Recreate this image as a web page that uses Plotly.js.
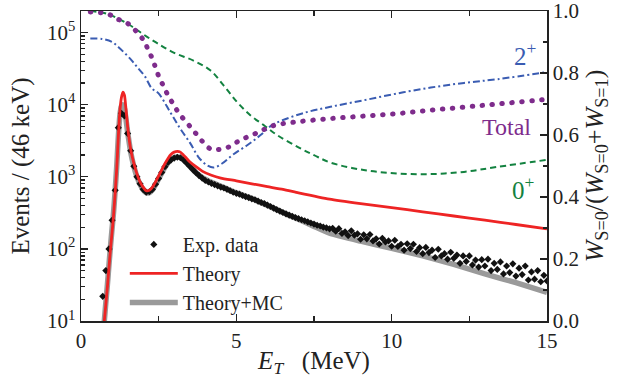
<!DOCTYPE html>
<html>
<head>
<meta charset="utf-8">
<script src="https://cdn.plot.ly/plotly-3.0.1.min.js"></script>
<style>html,body{margin:0;padding:0;background:#fff}#chart{width:621px;height:378px}</style>
</head>
<body>
<div id="chart"></div>
<script>
// ---- Experimental data (E_T in MeV, counts per 46 keV) ----
const expE = [
 0.7,0.8,0.9,1.0,1.1,1.2,1.3,1.4,1.5,1.6,
 1.7,1.8,1.9,2.0,2.1,2.2,2.3,2.4,2.5,2.6,
 2.7,2.8,2.9,3.0,3.1,3.2,3.3,3.4,3.5,3.6,
 3.7,3.8,3.9,4.0,4.1,4.2,4.3,4.4,4.5,4.6,
 4.7,4.8,4.9,5.0,5.1,5.2,5.3,5.4,5.5,5.6,
 5.7,5.8,5.9,6.0,6.1,6.2,6.3,6.4,6.5,6.6,
 6.7,6.8,6.9,7.0,7.1,7.2,7.3,7.4,7.5,7.6,
 7.7,7.8,7.9,8.0,8.1,8.2,8.3,8.4,8.5,8.6,
 8.7,8.8,8.9,9.0,9.1,9.2,9.3,9.4,9.5,9.6,
 9.7,9.8,9.9,10.0,10.1,10.2,10.3,10.4,10.5,10.6,
 10.7,10.8,10.9,11.0,11.1,11.2,11.3,11.4,11.5,11.6,
 11.7,11.8,11.9,12.0,12.1,12.2,12.3,12.4,12.5,12.6,
 12.7,12.8,12.9,13.0,13.1,13.2,13.3,13.4,13.5,13.6,
 13.7,13.8,13.9,14.0,14.1,14.2,14.3,14.4,14.5,14.6,
 14.7,14.8,14.9,15.0];
const expCounts = [
 22,50,100,250,650,4800,7600,7000,4000,2300,
 1400,1000,800,670,610,620,670,790,950,1150,
 1380,1580,1720,1820,1870,1840,1720,1560,1400,1260,
 1140,1040,960,890,850,810,780,750,720,700,
 670,640,610,590,575,550,530,515,495,480,
 460,440,425,405,388,368,350,335,320,306,
 294,283,272,263,254,246,237,229,221,213,
 208,200,196,190,193,176,191,164,172,153,
 178,155,162,136,157,138,158,129,138,117,
 140,125,129,109,132,108,116,96,118,101,
 116,92,104,86,105,89,96,76,99,80,
 86,72,90,74,82,63,80,67,80,60,
 70,56,71,58,72,50,63,52,66,45,
 58,47,62,42,54,44,58,37,48,38,
 50,35,43,36];

// ---- Theory (red) ----
const thE = [0.70,0.75,0.80,0.85,0.90,0.95,1.00,1.05,1.10,1.15,1.20,1.25,1.30,1.35,1.40,1.45,1.50,1.55,1.60,1.70,1.80,1.90,2.00,2.10,2.20,2.30,2.40,2.50,2.60,2.70,2.80,2.90,3.00,3.10,3.20,3.30,3.40,3.50,3.70,3.90,4.20,4.50,5.00,5.50,6.00,6.50,7.00,8.00,9.00,10.00,11.00,12.00,13.00,14.00,15.00];
const thCounts = [6,10,17,30,55,100,170,300,600,1300,3500,8000,12500,15000,13500,8500,5000,3300,2400,1550,1100,850,720,640,650,720,850,1030,1250,1520,1800,2050,2200,2250,2200,2000,1800,1620,1380,1200,1050,960,880,800,730,670,600,490,425,375,327,286,250,218,190];

// ---- Theory + MC (gray) ----
const mcE = [0.70,0.75,0.80,0.85,0.90,0.95,1.00,1.05,1.10,1.15,1.20,1.25,1.30,1.35,1.40,1.45,1.50,1.55,1.60,1.70,1.80,1.90,2.00,2.10,2.20,2.30,2.40,2.50,2.60,2.70,2.80,2.90,3.00,3.10,3.20,3.30,3.40,3.50,3.70,3.90,4.20,4.50,5.00,5.50,6.00,6.50,7.00,7.50,8.00,9.00,10.00,11.00,12.00,13.00,14.00,15.00];
const mcCounts = [6,10,18,32,60,110,190,330,650,1400,3500,7000,9500,10000,8800,6200,4200,3000,2200,1400,1000,790,660,600,600,660,780,940,1130,1350,1560,1740,1850,1890,1850,1720,1560,1400,1150,980,840,740,600,500,400,320,258,205,165,128,102,80,61,45,34,25];

// ---- Ratio W_{S=0}/(W_{S=0}+W_{S=1}) (right axis) ----
const totE = [0.3,0.67,1.0,1.2,1.5,1.8,2.03,2.17,2.31,2.41,2.52,2.66,2.8,2.98,3.16,3.43,3.68,3.92,4.19,4.48,4.77,5.07,5.36,5.67,5.96,6.26,7.0,8.03,9.1,10.18,11.26,12.33,13.4,15.0];
const totRatio = [0.997,0.994,0.985,0.973,0.96,0.932,0.903,0.873,0.843,0.814,0.785,0.757,0.728,0.698,0.669,0.637,0.607,0.578,0.554,0.554,0.562,0.58,0.594,0.607,0.621,0.632,0.643,0.653,0.661,0.669,0.68,0.69,0.70,0.715];

const twoE = [0.3,0.67,1.0,1.2,1.42,1.63,1.8,2.05,2.28,2.49,2.87,3.19,3.52,3.78,4.05,4.27,4.54,4.91,5.35,5.77,6.15,6.42,7.2,8.03,9.1,10.18,11.26,12.33,13.4,15.0];
const twoRatio = [0.911,0.91,0.9,0.884,0.863,0.841,0.82,0.79,0.75,0.735,0.674,0.621,0.573,0.529,0.503,0.495,0.508,0.538,0.567,0.599,0.632,0.645,0.672,0.691,0.712,0.734,0.753,0.768,0.78,0.803];

const zeroE = [0.3,0.67,1.0,1.58,2.0,2.44,3.0,3.62,4.16,4.59,5.02,5.45,5.88,6.31,7.0,7.5,8.03,9.1,10.18,11.26,12.33,13.4,15.0];
const zeroRatio = [1.0,0.995,0.985,0.954,0.925,0.897,0.865,0.84,0.809,0.76,0.707,0.664,0.632,0.6,0.56,0.535,0.511,0.487,0.476,0.474,0.481,0.497,0.52];

const xTicks = [0,5,10,15];
const yTickVals = [10,100,1000,10000,100000];
const yTickText = ['10<sup>1</sup>','10<sup>2</sup>','10<sup>3</sup>','10<sup>4</sup>','10<sup>5</sup>'];
const y2TickVals = [0,0.2,0.4,0.6,0.8,1.0];
const y2TickText = ['0.0','0.2','0.4','0.6','0.8','1.0'];

const FONT = '"Liberation Serif"';
const BLUE = '#3a5cb2', PURPLE = '#7e2c8c', GREEN = '#138240';
const INK = '#222';

const traces = [
  {x: mcE, y: mcCounts, type:'scatter', mode:'lines', name:'Theory+MC',
   line:{color:'#9a9a9a', width:5.5, shape:'spline', smoothing:0.5}, legendrank:3},
  {x: expE, y: expCounts, type:'scatter', mode:'markers', name:'Exp. data',
   marker:{symbol:'diamond', size:5.5, color:'#111111'}, legendrank:1},
  {x: thE, y: thCounts, type:'scatter', mode:'lines', name:'Theory',
   line:{color:'#ee2424', width:2.8, shape:'spline', smoothing:0.5}, legendrank:2},
  {x: zeroE, y: zeroRatio, yaxis:'y2', type:'scatter', mode:'lines', showlegend:false,
   line:{color:GREEN, width:2, dash:'6px,4px', shape:'spline'}},
  {x: twoE, y: twoRatio, yaxis:'y2', type:'scatter', mode:'lines', showlegend:false,
   line:{color:BLUE, width:2, dash:'7px,3px,2px,3px', shape:'spline'}},
  {x: totE, y: totRatio, yaxis:'y2', type:'scatter', mode:'lines', showlegend:false,
   line:{color:PURPLE, width:5, dash:'0.5px,9.5px', shape:'spline'}}
];

const layout = {
  width:621, height:378,
  margin:{l:81, r:74, t:11, b:57},
  paper_bgcolor:'#fff', plot_bgcolor:'#fff',
  font:{family:FONT, size:20, color:INK},
  showlegend:true,
  legend:{x:0.094, y:0.31, xanchor:'left', yanchor:'top', bgcolor:'rgba(0,0,0,0)',
          font:{family:FONT, size:20, color:INK}, itemwidth:48, tracegroupgap:0},
  xaxis:{range:[0,15], tickvals:xTicks, ticks:'inside', ticklen:7, tickwidth:1.3,
         tickcolor:INK, showline:true, linecolor:INK, linewidth:1.5, mirror:'ticks',
         showgrid:false, zeroline:false,
         minor:{dtick:2.5, tick0:0, ticks:'inside', ticklen:5, tickcolor:INK, showgrid:false},
         tickfont:{family:FONT, size:21, color:INK},
         title:{text:'<i>E<sub>T</sub></i>&nbsp;&nbsp;&nbsp;(MeV)', font:{family:FONT, size:25, color:INK}, standoff:2}},
  yaxis:{type:'log', range:[1,5.3], tickvals:yTickVals, ticktext:yTickText, ticks:'inside', ticklen:7,
         tickwidth:1.3, tickcolor:INK, showline:true, linecolor:INK, linewidth:1.5,
         showgrid:false, zeroline:false,
         minor:{dtick:'D1', ticks:'inside', ticklen:4, tickcolor:INK, showgrid:false},
         tickfont:{family:FONT, size:21, color:INK},
         title:{text:'Events / (46 keV)', font:{family:FONT, size:25, color:INK}, standoff:10}},
  yaxis2:{overlaying:'y', side:'right', range:[0,1], tickvals:y2TickVals, ticktext:y2TickText,
          ticklabeloverflow:'allow',
          ticks:'inside', ticklen:7, tickwidth:1.3, tickcolor:INK, showline:true,
          linecolor:INK, linewidth:1.5, showgrid:false, zeroline:false,
          minor:{dtick:0.1, tick0:0, ticks:'inside', ticklen:4, tickcolor:INK, showgrid:false},
          tickfont:{family:FONT, size:21, color:INK},
          title:{text:'<i>W</i><sub>S=0</sub>/(<i>W</i><sub>S=0</sub>+<i>W</i><sub>S=1</sub>)',
                 font:{family:FONT, size:26, color:INK}, standoff:6}},
  annotations:[
    {x:14.3, y:0.862, xref:'x', yref:'y2', text:'2<sup>+</sup>', showarrow:false,
     font:{family:FONT, size:25, color:BLUE}},
    {x:13.7, y:0.625, xref:'x', yref:'y2', text:'Total', showarrow:false,
     font:{family:FONT, size:24, color:PURPLE}},
    {x:14.25, y:0.43, xref:'x', yref:'y2', text:'0<sup>+</sup>', showarrow:false,
     font:{family:FONT, size:25, color:GREEN}}
  ]
};

Plotly.newPlot('chart', traces, layout, {staticPlot:true}).then(function(){
  document.querySelectorAll('path.js-line').forEach(function(p){
    const da = p.style.strokeDasharray || '';
    if (da.indexOf('9.5px') >= 0) p.style.strokeLinecap = 'round';
  });
});
</script>
</body>
</html>
